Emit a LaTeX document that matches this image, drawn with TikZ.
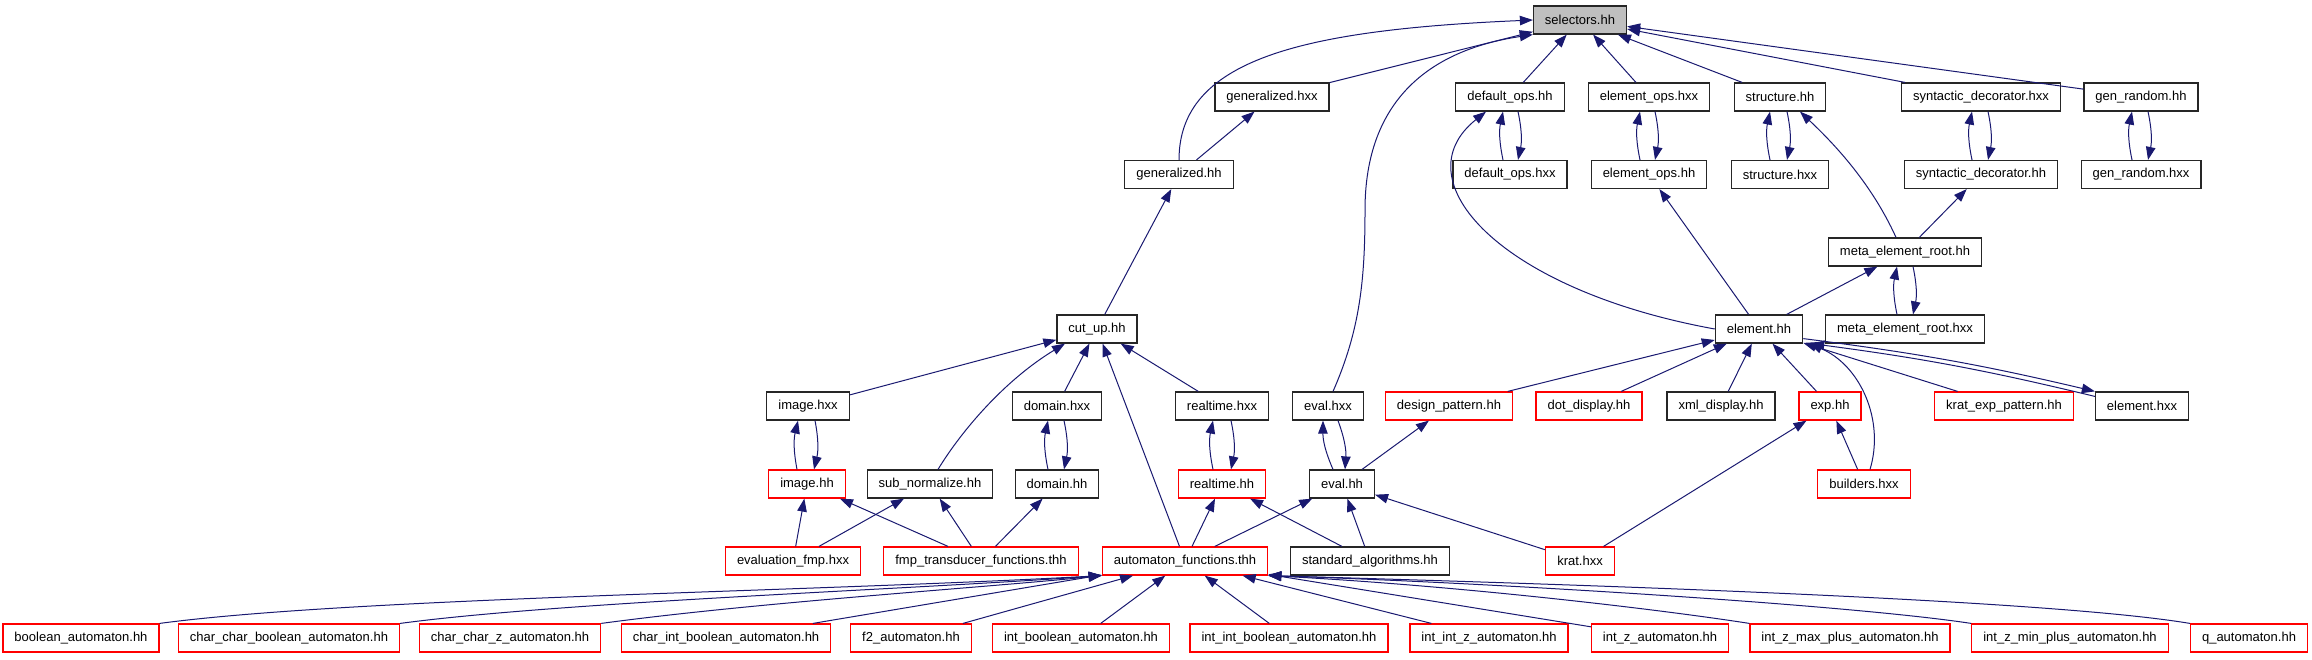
\documentclass[tikz,border=0pt]{standalone}
\usepackage{fontspec}
\newfontfamily\dxfont{Liberation Sans}
\usetikzlibrary{arrows.meta}
\definecolor{edgeblue}{HTML}{191970}
\definecolor{rootgray}{HTML}{BFBFBF}

\begin{document}
\begin{tikzpicture}[
    x=1pt, y=-1pt,
    % Stili nodi
    hdr/.style={rectangle, draw=black!85, line width=1.2pt, fill=white, minimum height=28pt, inner xsep=11.5pt, font=\dxfont\fontsize{13}{15}\selectfont},
    hdrcut/.style={hdr, draw=red},
    hdrroot/.style={hdr, fill=rootgray},
    % Frecce
    incl/.style={-{Triangle[length=13pt,width=9.5pt]}, line width=1pt, draw=edgeblue}
]
\useasboundingbox (0,0) rectangle (2312,659);

% === RADICE ===
\node[hdrroot] (selectors_hh) at (1580,20) {selectors.hh};

% === RIGA 2 ===
\node[hdr] (generalized_hxx) at (1272,97) {generalized.hxx};
\node[hdr] (default_ops_hh) at (1510,97) {default\_ops.hh};
\node[hdr] (element_ops_hxx) at (1649,97) {element\_ops.hxx};
\node[hdr] (structure_hh) at (1780,97) {structure.hh};
\node[hdr] (syntactic_decorator_hxx) at (1981,97) {syntactic\_decorator.hxx};
\node[hdr] (gen_random_hh) at (2141,97) {gen\_random.hh};

% === RIGA 3 ===
\node[hdr] (generalized_hh) at (1179,174.5) {generalized.hh};
\node[hdr] (default_ops_hxx) at (1510,174.5) {default\_ops.hxx};
\node[hdr] (element_ops_hh) at (1649,174.5) {element\_ops.hh};
\node[hdr] (structure_hxx) at (1780,174.5) {structure.hxx};
\node[hdr] (syntactic_decorator_hh) at (1981,174.5) {syntactic\_decorator.hh};
\node[hdr] (gen_random_hxx) at (2141,174.5) {gen\_random.hxx};

\node[hdr] (meta_element_root_hh) at (1905,252) {meta\_element\_root.hh};

% === RIGA 5 ===
\node[hdr] (cut_up_hh) at (1097,329) {cut\_up.hh};
\node[hdr] (element_hh) at (1759,329) {element.hh};
\node[hdr] (meta_element_root_hxx) at (1905,329) {meta\_element\_root.hxx};

% === RIGA 6 ===
\node[hdr] (image_hxx) at (808,406) {image.hxx};
\node[hdr] (domain_hxx) at (1057,406) {domain.hxx};
\node[hdr] (realtime_hxx) at (1222,406) {realtime.hxx};
\node[hdr] (eval_hxx) at (1328,406) {eval.hxx};
\node[hdrcut] (design_pattern_hh) at (1449,406) {design\_pattern.hh};
\node[hdrcut] (dot_display_hh) at (1589,406) {dot\_display.hh};
\node[hdr] (xml_display_hh) at (1721,406) {xml\_display.hh};
\node[hdrcut] (exp_hh) at (1830,406) {exp.hh};
\node[hdrcut] (krat_exp_pattern_hh) at (2004,406) {krat\_exp\_pattern.hh};
\node[hdr] (element_hxx) at (2142,406) {element.hxx};

% === RIGA 7 ===
\node[hdrcut] (image_hh) at (807,484) {image.hh};
\node[hdr] (sub_normalize_hh) at (930,484) {sub\_normalize.hh};
\node[hdr] (domain_hh) at (1057,484) {domain.hh};
\node[hdrcut] (realtime_hh) at (1222,484) {realtime.hh};
\node[hdr] (eval_hh) at (1342,484) {eval.hh};
\node[hdrcut] (builders_hxx) at (1864,484) {builders.hxx};

% === RIGA 8 ===
\node[hdrcut] (evaluation_fmp_hxx) at (793,561) {evaluation\_fmp.hxx};
\node[hdrcut] (fmp_transducer_functions_thh) at (981,561) {fmp\_transducer\_functions.thh};
\node[hdrcut] (automaton_functions_thh) at (1185,561) {automaton\_functions.thh};
\node[hdr] (standard_algorithms_hh) at (1370,561) {standard\_algorithms.hh};
\node[hdrcut] (krat_hxx) at (1580,561) {krat.hxx};

% === RIGA 9 ===
\node[hdrcut] (boolean_automaton_hh) at (81,638) {boolean\_automaton.hh};
\node[hdrcut] (char_char_boolean_automaton_hh) at (289,638) {char\_char\_boolean\_automaton.hh};
\node[hdrcut] (char_char_z_automaton_hh) at (510,638) {char\_char\_z\_automaton.hh};
\node[hdrcut] (char_int_boolean_automaton_hh) at (726,638) {char\_int\_boolean\_automaton.hh};
\node[hdrcut] (f2_automaton_hh) at (911,638) {f2\_automaton.hh};
\node[hdrcut] (int_boolean_automaton_hh) at (1081,638) {int\_boolean\_automaton.hh};
\node[hdrcut] (int_int_boolean_automaton_hh) at (1289,638) {int\_int\_boolean\_automaton.hh};
\node[hdrcut] (int_int_z_automaton_hh) at (1489,638) {int\_int\_z\_automaton.hh};
\node[hdrcut] (int_z_automaton_hh) at (1660,638) {int\_z\_automaton.hh};
\node[hdrcut] (int_z_max_plus_automaton_hh) at (1850,638) {int\_z\_max\_plus\_automaton.hh};
\node[hdrcut] (int_z_min_plus_automaton_hh) at (2070,638) {int\_z\_min\_plus\_automaton.hh};
\node[hdrcut] (q_automaton_hh) at (2249,638) {q\_automaton.hh};

% === Connessioni verso selectors.hh ===
\draw[incl] (generalized_hh.north) .. controls (1179,60) and (1300,30) .. (selectors_hh.west);
\draw[incl] (generalized_hxx) -- (selectors_hh);
\draw[incl] ([xshift=5pt]eval_hxx.north) .. controls (1360,330) and (1365,280) .. (1365,210) .. controls (1365,100) and (1430,50) .. (selectors_hh.south west);
\draw[incl] (default_ops_hh) -- (selectors_hh);
\draw[incl] (element_ops_hxx) -- (selectors_hh);
\draw[incl] (structure_hh) -- (selectors_hh);
\draw[incl] (syntactic_decorator_hxx) -- (selectors_hh);
\draw[incl] (gen_random_hh) -- (selectors_hh);

% === Righe 2-4 ===
\draw[incl] (generalized_hh) -- (generalized_hxx);
\draw[incl] (cut_up_hh) -- (generalized_hh);
\draw[incl] ([xshift=-7pt]default_ops_hxx.north) to[bend left=12] ([xshift=-7pt]default_ops_hh.south);
\draw[incl] ([xshift=8pt]default_ops_hh.south) to[bend left=12] ([xshift=8pt]default_ops_hxx.north);
\draw[incl] (element_hh.west) .. controls (1500,290) and (1400,180) .. ([xshift=-24pt]default_ops_hh.south);
\draw[incl] ([xshift=-9pt]element_ops_hh.north) to[bend left=12] ([xshift=-9pt]element_ops_hxx.south);
\draw[incl] ([xshift=6pt]element_ops_hxx.south) to[bend left=12] ([xshift=6pt]element_ops_hh.north);
\draw[incl] (element_hh) -- (element_ops_hh);
\draw[incl] ([xshift=-10pt]structure_hxx.north) to[bend left=12] ([xshift=-10pt]structure_hh.south);
\draw[incl] ([xshift=7pt]structure_hh.south) to[bend left=12] ([xshift=7pt]structure_hxx.north);
\draw[incl] ([xshift=-9pt]meta_element_root_hh.north) .. controls (1870,180) and (1830,140) .. ([xshift=20pt]structure_hh.south);
\draw[incl] ([xshift=-9pt]syntactic_decorator_hh.north) to[bend left=12] ([xshift=-9pt]syntactic_decorator_hxx.south);
\draw[incl] ([xshift=7pt]syntactic_decorator_hxx.south) to[bend left=12] ([xshift=7pt]syntactic_decorator_hh.north);
\draw[incl] (meta_element_root_hh) -- (syntactic_decorator_hh);
\draw[incl] ([xshift=-9pt]gen_random_hxx.north) to[bend left=12] ([xshift=-9pt]gen_random_hh.south);
\draw[incl] ([xshift=7pt]gen_random_hh.south) to[bend left=12] ([xshift=7pt]gen_random_hxx.north);
\draw[incl] (element_hh) -- (meta_element_root_hh);
\draw[incl] ([xshift=-8pt]meta_element_root_hxx.north) to[bend left=12] ([xshift=-8pt]meta_element_root_hh.south);
\draw[incl] ([xshift=8pt]meta_element_root_hh.south) to[bend left=12] ([xshift=8pt]meta_element_root_hxx.north);

% === Verso cut_up.hh ===
\draw[incl] (image_hxx) -- (cut_up_hh);
\draw[incl] ([xshift=8pt]sub_normalize_hh.north) .. controls (962,430) and (1005,380) .. ([xshift=-32pt]cut_up_hh.south);
\draw[incl] (domain_hxx) -- (cut_up_hh);
\draw[incl] (automaton_functions_thh) -- (cut_up_hh);
\draw[incl] (realtime_hxx) -- (cut_up_hh);

% === Coppie righe 6-7 ===
\draw[incl] ([xshift=-10pt]image_hh.north) to[bend left=12] ([xshift=-10pt]image_hxx.south);
\draw[incl] ([xshift=7pt]image_hxx.south) to[bend left=12] ([xshift=7pt]image_hh.north);
\draw[incl] ([xshift=-9pt]domain_hh.north) to[bend left=12] ([xshift=-9pt]domain_hxx.south);
\draw[incl] ([xshift=7pt]domain_hxx.south) to[bend left=12] ([xshift=7pt]domain_hh.north);
\draw[incl] ([xshift=-9pt]realtime_hh.north) to[bend left=12] ([xshift=-9pt]realtime_hxx.south);
\draw[incl] ([xshift=9pt]realtime_hxx.south) to[bend left=12] ([xshift=9pt]realtime_hh.north);
\draw[incl] ([xshift=-9pt]eval_hh.north) to[bend left=12] ([xshift=-5pt]eval_hxx.south);
\draw[incl] ([xshift=10pt]eval_hxx.south) to[bend left=12] ([xshift=3pt]eval_hh.north);

% === Verso element.hh ===
\draw[incl] (design_pattern_hh) -- (element_hh);
\draw[incl] (dot_display_hh) -- (element_hh);
\draw[incl] (xml_display_hh) -- (element_hh);
\draw[incl] (exp_hh) -- (element_hh);
\draw[incl] ([xshift=6pt]builders_hxx.north) .. controls (1885,420) and (1860,365) .. ([xshift=6pt]element_hh.south east);
\draw[incl] (krat_exp_pattern_hh) -- (element_hh);
\draw[incl] ([yshift=5pt]element_hh.south east) to[bend left=3] (element_hxx.north west);
\draw[incl] ([yshift=-5pt]element_hxx.north west) to[bend right=3] ([xshift=8pt]element_hh.south east);

% === Righe 7-8 ===
\draw[incl] (krat_hxx) -- (exp_hh);
\draw[incl] (builders_hxx) -- (exp_hh);
\draw[incl] (eval_hh) -- (design_pattern_hh);
\draw[incl] (automaton_functions_thh) -- (eval_hh);
\draw[incl] (standard_algorithms_hh) -- (eval_hh);
\draw[incl] (krat_hxx) -- (eval_hh);
\draw[incl] (automaton_functions_thh) -- (realtime_hh);
\draw[incl] (standard_algorithms_hh) -- (realtime_hh);
\draw[incl] (evaluation_fmp_hxx) -- (image_hh);
\draw[incl] (fmp_transducer_functions_thh) -- (image_hh);
\draw[incl] (evaluation_fmp_hxx) -- (sub_normalize_hh);
\draw[incl] (fmp_transducer_functions_thh) -- (sub_normalize_hh);
\draw[incl] (fmp_transducer_functions_thh) -- (domain_hh);

% === Verso automaton_functions.thh ===
\draw[incl] (boolean_automaton_hh.north east) .. controls (350,598) and (800,592) .. (automaton_functions_thh.south west);
\draw[incl] (char_char_boolean_automaton_hh.north east) .. controls (560,602) and (900,590) .. (automaton_functions_thh.south west);
\draw[incl] (char_char_z_automaton_hh.north east) .. controls (760,602) and (980,588) .. (automaton_functions_thh.south west);
\draw[incl] (char_int_boolean_automaton_hh) -- (automaton_functions_thh);
\draw[incl] (f2_automaton_hh) -- (automaton_functions_thh);
\draw[incl] (int_boolean_automaton_hh) -- (automaton_functions_thh);
\draw[incl] (int_int_boolean_automaton_hh) -- (automaton_functions_thh);
\draw[incl] (int_int_z_automaton_hh) -- (automaton_functions_thh);
\draw[incl] (int_z_automaton_hh) -- (automaton_functions_thh);
\draw[incl] (int_z_max_plus_automaton_hh.north west) .. controls (1650,608) and (1450,585) .. (automaton_functions_thh.south east);
\draw[incl] (int_z_min_plus_automaton_hh.north west) .. controls (1850,605) and (1500,583) .. (automaton_functions_thh.south east);
\draw[incl] (q_automaton_hh.north west) .. controls (2050,600) and (1600,585) .. (automaton_functions_thh.south east);

\end{tikzpicture}
\end{document}
